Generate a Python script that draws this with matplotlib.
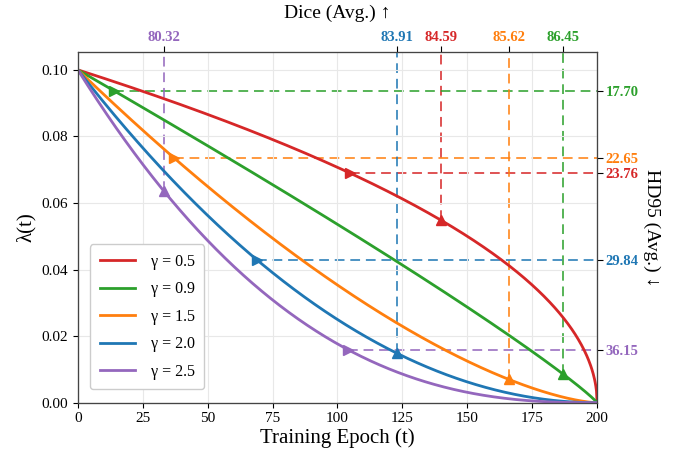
import matplotlib.pyplot as plt
import numpy as np

plt.rcParams['font.family'] = ['Liberation Serif', 'DejaVu Serif']

# schedule: lambda(t) = lam0 * (1 - t/T) ** gamma
lam0 = 0.1
T = 200
gammas = [0.5, 0.9, 1.5, 2.0, 2.5]
colors = ['#d62728', '#2ca02c', '#ff7f0e', '#1f77b4', '#9467bd']

# epoch of the best HD95 checkpoint (">" marker) and its value
hd_epochs = [105, 14, 37, 69, 104]
hd_values = ['23.76', '17.70', '22.65', '29.84', '36.15']
# epoch of the best Dice checkpoint ("^" marker) and its value
dice_epochs = [140, 187, 166, 123, 33]
dice_values = ['84.59', '86.45', '85.62', '83.91', '80.32']


def lam(t, g):
    return lam0 * (1 - np.asarray(t) / T) ** g


fig, ax = plt.subplots(figsize=(6.77, 4.51), dpi=100)
fig.subplots_adjust(left=0.115, right=0.882, top=0.885, bottom=0.107)

t = np.linspace(0, T, 801)
for g, c in zip(gammas, colors):
    ax.plot(t, lam(t, g), color=c, lw=2, label=f'γ = {g}')

ytop = 0.1054
for g, c, he, de in zip(gammas, colors, hd_epochs, dice_epochs):
    yh = lam(he, g)
    yd = lam(de, g)
    ax.plot([he, T], [yh, yh], ls=(0, (5, 3)), color=c, lw=1.4, alpha=0.8, zorder=1)
    ax.plot([de, de], [yd, ytop], ls=(0, (5, 3)), color=c, lw=1.4, alpha=0.8, zorder=1)
    ax.plot(he, yh, marker='>', color=c, ms=7.5, zorder=4)
    ax.plot(de, yd, marker='^', color=c, ms=7.5, zorder=4)

ax.set_xlim(0, T)
ax.set_ylim(0, ytop)
ax.set_xticks([0, 25, 50, 75, 100, 125, 150, 175, 200])
ax.set_yticks([0, 0.02, 0.04, 0.06, 0.08, 0.10])
ax.set_yticklabels(['0.00', '0.02', '0.04', '0.06', '0.08', '0.10'])
ax.tick_params(labelsize=11)
ax.grid(True, color='#e8e8e8', lw=0.8)
ax.set_xlabel('Training Epoch (t)', fontsize=15, labelpad=2)
ax.set_ylabel('λ(t)', fontsize=15)
for s in ax.spines.values():
    s.set_color('#444444')

ax.legend(loc='lower left', fontsize=11.5, handlelength=2.2, borderpad=0.6,
          labelspacing=0.72, handletextpad=1.0, bbox_to_anchor=(0.008, 0.015),
          framealpha=1, edgecolor='#cccccc')

# top axis: Dice
axt = ax.twiny()
axt.set_xlim(0, T)
axt.set_xticks(dice_epochs)
axt.set_xticklabels(dice_values, fontsize=10.5, fontweight='bold')
for lab, c in zip(axt.get_xticklabels(), colors):
    lab.set_color(c)
axt.tick_params(length=4, pad=2)
axt.set_xlabel('Dice (Avg.) ↑', fontsize=14, labelpad=9)

# right axis: HD95
axr = ax.twinx()
axr.set_ylim(0, ytop)
axr.set_yticks([lam(e, g) for e, g in zip(hd_epochs, gammas)])
axr.set_yticklabels(hd_values, fontsize=10.5, fontweight='bold')
for lab, c in zip(axr.get_yticklabels(), colors):
    lab.set_color(c)
axr.tick_params(length=4, pad=2)
axr.set_ylabel('HD95 (Avg.) ↓', fontsize=14, rotation=270, labelpad=16)
for a in (axt, axr):
    for s in a.spines.values():
        s.set_color('#444444')

fig.savefig('out.png', dpi=100)
